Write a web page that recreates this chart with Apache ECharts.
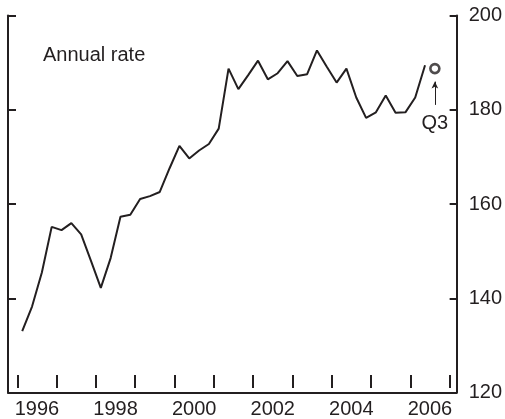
<!DOCTYPE html>
<html><head><meta charset="utf-8">
<script src="https://cdn.jsdelivr.net/npm/echarts@6/dist/echarts.min.js"></script>
<style>html,body{margin:0;padding:0;background:#fff}#c{width:505px;height:419px}</style>
</head><body><div id="c"></div>
<script>
// Years shown on the axis (each band = one year)
var years = ['1996','1997','1998','1999','2000','2001','2002','2003','2004','2005','2006'];
// Quarterly categories 1996Q1 .. 2006Q4
var quarters = [];
years.forEach(function(y){ ['Q1','Q2','Q3','Q4'].forEach(function(q){ quarters.push(y+q); }); });
// Quarterly values, annual rate (1996Q1 .. 2006Q2)
var values = [132.2,137.5,144.8,154.6,153.9,155.4,153.0,147.3,141.5,147.9,156.8,157.2,
              160.6,161.2,162.1,167.2,172.0,169.3,171.0,172.4,175.7,188.6,184.2,187.2,
              190.3,186.3,187.6,190.2,187.0,187.4,192.5,189.0,185.6,188.6,182.4,178.0,
              179.2,182.8,179.1,179.2,182.4,189.3];
// Latest quarter (2006Q3) estimate
var q3Point = ['2006Q3', 188.6];
var q3Label = 'Q3';
var yTicks = [120, 140, 160, 180, 200];
var noteText = 'Annual rate';

var ink = '#231f20';
var font = 'Liberation Sans, Arial, Helvetica, sans-serif';
var chart = echarts.init(document.getElementById('c'), null, {renderer:'canvas'});
chart.setOption({
  animation:false,
  backgroundColor:'#fff',
  grid:[
    {left:8, right:47, top:15.5, bottom:26.5},
    {left:17.3, right:55.4, top:15.5, bottom:26.5}
  ],
  title:{text:noteText, left:38, top:40, textStyle:{fontFamily:font, fontSize:20, fontWeight:'normal', color:ink}},
  xAxis:[
    {gridIndex:0, type:'value', min:0, max:1, axisLine:{show:true, lineStyle:{color:ink, width:2}},
     axisTick:{show:false}, axisLabel:{show:false}, splitLine:{show:false}},
    {gridIndex:1, type:'category', data:years, boundaryGap:true, position:'bottom',
     axisLine:{show:false}, axisTick:{show:true, inside:true, length:13, interval:0, lineStyle:{color:ink, width:2}},
     axisLabel:{interval:1, margin:11, fontFamily:font, fontSize:20, color:ink}, splitLine:{show:false}},
    {gridIndex:1, type:'category', data:quarters, boundaryGap:true, show:false}
  ],
  yAxis:[
    {gridIndex:0, type:'value', position:'left', min:yTicks[0], max:yTicks[yTicks.length-1], interval:20,
     axisLine:{show:true, lineStyle:{color:ink, width:2}}, axisTick:{show:true, inside:true, length:8, lineStyle:{color:ink, width:2}},
     axisLabel:{show:false}, splitLine:{show:false}},
    {gridIndex:0, type:'value', position:'right', min:yTicks[0], max:yTicks[yTicks.length-1], interval:20,
     axisLine:{show:true, lineStyle:{color:ink, width:2}}, axisTick:{show:true, inside:true, length:7, lineStyle:{color:ink, width:2}},
     axisLabel:{show:true, margin:12, fontFamily:font, fontSize:20, color:ink}, splitLine:{show:false}},
    {gridIndex:1, type:'value', min:yTicks[0], max:yTicks[yTicks.length-1], show:false}
  ],
  series:[
    {type:'line', xAxisIndex:2, yAxisIndex:2, data:values, symbol:'none',
     lineStyle:{color:ink, width:2}},
    {type:'scatter', xAxisIndex:2, yAxisIndex:2, data:[q3Point], symbol:'circle', symbolSize:9,
     itemStyle:{color:'#fff', borderColor:ink, borderWidth:2.6},
     markLine:{silent:true, symbol:['none','arrow'], symbolSize:[5,7],
       lineStyle:{color:ink, width:1, type:'solid'},
       label:{show:true, position:'start', formatter:q3Label, fontFamily:font, fontSize:20, color:ink, distance:9},
       data:[[{coord:['2006Q3',180.8]},{coord:['2006Q3',185.8]}]]}}
  ]
});
</script></body></html>
